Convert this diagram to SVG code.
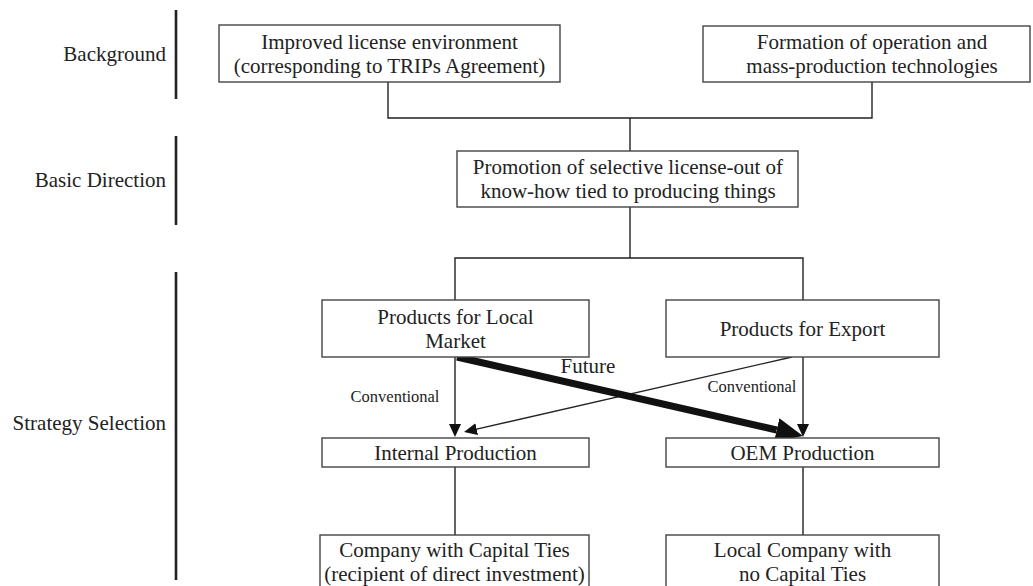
<svg xmlns="http://www.w3.org/2000/svg" width="1033" height="586" viewBox="0 0 1033 586">
<style>
.box{fill:#fff;stroke:#444;stroke-width:1.4}
.t{font-family:"Liberation Serif","Times New Roman",serif;font-size:21px;fill:#222;text-anchor:middle}
.lab{font-family:"Liberation Serif","Times New Roman",serif;font-size:21px;fill:#222;text-anchor:end}
.small{font-family:"Liberation Serif","Times New Roman",serif;font-size:16.5px;fill:#222;text-anchor:middle}
.ln{fill:none;stroke:#222;stroke-width:1.4}
.bar{stroke:#222;stroke-width:2.6}
</style>
<defs>
<marker id="ah" markerUnits="userSpaceOnUse" markerWidth="14" markerHeight="12" refX="0" refY="6" orient="auto" viewBox="0 0 14 12">
<path d="M0,0 L13,6 L0,12 Z" fill="#111"/>
</marker>
<marker id="ahBig" markerUnits="userSpaceOnUse" markerWidth="28" markerHeight="24" refX="0" refY="12" orient="auto" viewBox="0 0 28 24">
<path d="M0,0 L27,12 L0,24 Z" fill="#111"/>
</marker>
</defs>
<rect width="1033" height="586" fill="#fff"/>
<g id="section-labels">
<line class="bar" x1="176" y1="10" x2="176" y2="99"/>
<line class="bar" x1="176" y1="136" x2="176" y2="225"/>
<line class="bar" x1="176" y1="272" x2="176" y2="580"/>
<text class="lab" x="166" y="61">Background</text>
<text class="lab" x="166" y="187">Basic Direction</text>
<text class="lab" x="166" y="430">Strategy Selection</text>
</g>
<g id="connectors">
<polyline class="ln" points="388,82 388,118 872,118 872,82"/>
<line class="ln" x1="630" y1="118" x2="630" y2="151"/>
<line class="ln" x1="630" y1="207" x2="630" y2="258"/>
<polyline class="ln" points="455,300 455,258 803,258 803,300"/>
<line class="ln" x1="455" y1="467" x2="455" y2="535"/>
<line class="ln" x1="803" y1="467" x2="803" y2="535"/>
<line class="ln" x1="455" y1="357" x2="455" y2="424" marker-end="url(#ah)"/>
<line class="ln" x1="803" y1="357" x2="803" y2="424" marker-end="url(#ah)"/>
<line class="ln" x1="792" y1="357" x2="476.7" y2="429.1" marker-end="url(#ah)"/>
<line stroke="#111" stroke-width="7" x1="457" y1="357" x2="776.7" y2="430" marker-end="url(#ahBig)"/>
<text class="small" x="395" y="402">Conventional</text>
<text class="t" x="588" y="373">Future</text>
<text class="small" x="752" y="392">Conventional</text>
</g>
<g id="n-improved">
<rect class="box" x="219" y="25" width="341" height="57"/>
<text class="t" x="389.5" y="48.5">Improved license environment</text>
<text class="t" x="389.5" y="72.5">(corresponding to TRIPs Agreement)</text>
</g>
<g id="n-formation">
<rect class="box" x="703" y="26" width="327" height="56"/>
<text class="t" x="872" y="49">Formation of operation and</text>
<text class="t" x="872" y="73">mass-production technologies</text>
</g>
<g id="n-promotion">
<rect class="box" x="457" y="151" width="341" height="56"/>
<text class="t" x="628" y="174">Promotion of selective license-out of</text>
<text class="t" x="628" y="198">know-how tied to producing things</text>
</g>
<g id="n-local-market">
<rect class="box" x="322" y="300" width="267" height="57"/>
<text class="t" x="455.5" y="324">Products for Local</text>
<text class="t" x="455.5" y="348">Market</text>
</g>
<g id="n-export">
<rect class="box" x="666" y="300" width="273" height="57"/>
<text class="t" x="802.5" y="335.5">Products for Export</text>
</g>
<g id="n-internal">
<rect class="box" x="322" y="438" width="267" height="29"/>
<text class="t" x="455.5" y="460">Internal Production</text>
</g>
<g id="n-oem">
<rect class="box" x="666" y="438" width="273" height="29"/>
<text class="t" x="802.5" y="460">OEM Production</text>
</g>
<g id="n-capital">
<rect class="box" x="320" y="535" width="269" height="60"/>
<text class="t" x="454.5" y="557">Company with Capital Ties</text>
<text class="t" x="454.5" y="581">(recipient of direct investment)</text>
</g>
<g id="n-no-capital">
<rect class="box" x="666" y="535" width="273" height="60"/>
<text class="t" x="802.5" y="557">Local Company with</text>
<text class="t" x="802.5" y="581">no Capital Ties</text>
</g>
</svg>
